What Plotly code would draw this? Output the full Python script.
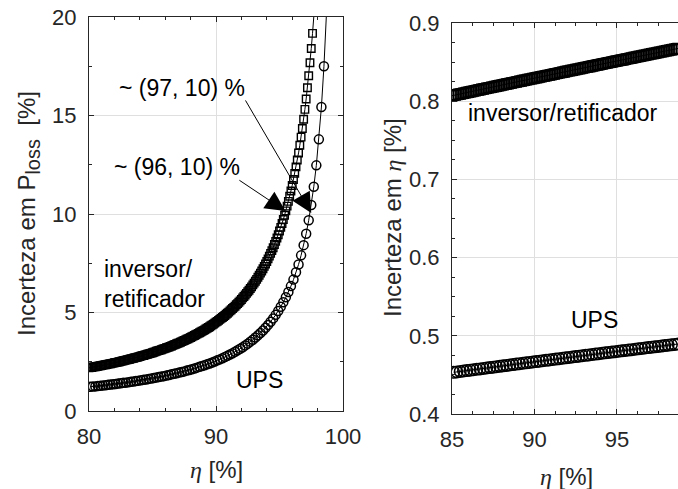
import plotly.graph_objects as go

# ---------------- data ----------------
# Left panel: uncertainty in P_loss [%] versus efficiency eta [%]
inv_left_x_start, inv_left_x_step = 80.0, 0.1
inv_left_y = [
    2.19, 2.20, 2.21, 2.23, 2.24, 2.25, 2.26, 2.27, 2.29, 2.30,
    2.31, 2.33, 2.34, 2.35, 2.36, 2.38, 2.39, 2.40, 2.42, 2.43,
    2.45, 2.46, 2.47, 2.49, 2.50, 2.52, 2.54, 2.55, 2.57, 2.58,
    2.60, 2.61, 2.63, 2.65, 2.66, 2.68, 2.70, 2.71, 2.73, 2.75,
    2.77, 2.79, 2.81, 2.82, 2.84, 2.86, 2.88, 2.90, 2.92, 2.94,
    2.96, 2.98, 3.00, 3.03, 3.05, 3.07, 3.09, 3.11, 3.14, 3.16,
    3.18, 3.21, 3.23, 3.25, 3.28, 3.30, 3.33, 3.36, 3.38, 3.41,
    3.44, 3.46, 3.49, 3.52, 3.55, 3.58, 3.61, 3.64, 3.67, 3.70,
    3.73, 3.77, 3.80, 3.83, 3.87, 3.90, 3.94, 3.97, 4.01, 4.05,
    4.08, 4.12, 4.16, 4.20, 4.24, 4.28, 4.33, 4.37, 4.41, 4.46,
    4.51, 4.55, 4.60, 4.65, 4.70, 4.75, 4.80, 4.85, 4.91, 4.96,
    5.02, 5.08, 5.14, 5.20, 5.26, 5.32, 5.39, 5.45, 5.52, 5.59,
    5.66, 5.74, 5.81, 5.89, 5.97, 6.05, 6.13, 6.22, 6.30, 6.40,
    6.49, 6.59, 6.68, 6.79, 6.89, 7.00, 7.11, 7.22, 7.34, 7.46,
    7.59, 7.72, 7.86, 8.00, 8.14, 8.29, 8.45, 8.61, 8.78, 8.95,
    9.14, 9.32, 9.52, 9.72, 9.94, 10.16, 10.40, 10.64, 10.90, 11.17,
    11.45, 11.75, 12.06, 12.39, 12.74, 13.10, 13.49, 13.90, 14.34, 14.81,
    15.31, 15.84, 16.41, 17.02, 17.68, 18.40, 19.17, 20.01,
]
ups_left_x_start, ups_left_x_step = 80.1, 0.2
ups_left_y = [
    1.23, 1.24, 1.25, 1.27, 1.28, 1.30, 1.31, 1.33, 1.34, 1.36,
    1.37, 1.39, 1.41, 1.43, 1.44, 1.46, 1.48, 1.50, 1.52, 1.54,
    1.56, 1.58, 1.60, 1.63, 1.65, 1.67, 1.70, 1.72, 1.75, 1.77,
    1.80, 1.83, 1.86, 1.89, 1.92, 1.95, 1.98, 2.01, 2.05, 2.08,
    2.12, 2.16, 2.20, 2.24, 2.28, 2.32, 2.37, 2.41, 2.46, 2.51,
    2.57, 2.62, 2.68, 2.74, 2.80, 2.87, 2.93, 3.01, 3.08, 3.16,
    3.24, 3.33, 3.42, 3.52, 3.62, 3.73, 3.84, 3.96, 4.09, 4.23,
    4.37, 4.53, 4.70, 4.88, 5.08, 5.29, 5.52, 5.77, 6.04, 6.34,
    6.67, 7.04, 7.44, 7.90, 8.42, 9.00, 9.68, 10.46, 11.38, 12.47,
    13.79, 15.43, 17.50, 20.21,
]

# Right panel: uncertainty in eta [%] versus eta [%]
inv_right_x_start, inv_right_x_step = 85.0, 0.1
inv_right_y = [
    0.8070, 0.8075, 0.8079, 0.8084, 0.8088, 0.8093, 0.8097, 0.8102, 0.8106, 0.8111,
    0.8115, 0.8120, 0.8124, 0.8129, 0.8133, 0.8138, 0.8143, 0.8147, 0.8152, 0.8156,
    0.8161, 0.8165, 0.8170, 0.8174, 0.8179, 0.8183, 0.8188, 0.8192, 0.8197, 0.8201,
    0.8206, 0.8210, 0.8215, 0.8219, 0.8224, 0.8228, 0.8233, 0.8237, 0.8241, 0.8246,
    0.8250, 0.8255, 0.8259, 0.8264, 0.8268, 0.8273, 0.8277, 0.8282, 0.8286, 0.8290,
    0.8295, 0.8299, 0.8304, 0.8308, 0.8312, 0.8317, 0.8321, 0.8326, 0.8330, 0.8334,
    0.8339, 0.8343, 0.8348, 0.8352, 0.8356, 0.8362, 0.8366, 0.8370, 0.8374, 0.8379,
    0.8384, 0.8388, 0.8392, 0.8396, 0.8401, 0.8406, 0.8410, 0.8414, 0.8418, 0.8423,
    0.8428, 0.8432, 0.8436, 0.8440, 0.8444, 0.8450, 0.8454, 0.8458, 0.8462, 0.8466,
    0.8471, 0.8475, 0.8480, 0.8484, 0.8488, 0.8493, 0.8497, 0.8501, 0.8506, 0.8510,
    0.8515, 0.8519, 0.8523, 0.8527, 0.8531, 0.8537, 0.8541, 0.8545, 0.8549, 0.8553,
    0.8558, 0.8562, 0.8567, 0.8571, 0.8575, 0.8580, 0.8584, 0.8588, 0.8592, 0.8597,
    0.8602, 0.8606, 0.8610, 0.8614, 0.8618, 0.8623, 0.8627, 0.8631, 0.8636, 0.8640,
    0.8645, 0.8649, 0.8653, 0.8657, 0.8661, 0.8666, 0.8670, 0.8674,
]
ups_right_x_start, ups_right_x_step = 85.1, 0.2
ups_right_y = [
    0.4533, 0.4538, 0.4544, 0.4550, 0.4555, 0.4561, 0.4566, 0.4572, 0.4577, 0.4583,
    0.4588, 0.4594, 0.4599, 0.4605, 0.4610, 0.4616, 0.4621, 0.4627, 0.4632, 0.4638,
    0.4643, 0.4649, 0.4654, 0.4659, 0.4665, 0.4670, 0.4676, 0.4681, 0.4686, 0.4692,
    0.4697, 0.4702, 0.4708, 0.4713, 0.4718, 0.4724, 0.4729, 0.4734, 0.4740, 0.4745,
    0.4750, 0.4756, 0.4761, 0.4766, 0.4771, 0.4777, 0.4782, 0.4787, 0.4792, 0.4797,
    0.4803, 0.4808, 0.4813, 0.4818, 0.4823, 0.4828, 0.4834, 0.4839, 0.4844, 0.4849,
    0.4854, 0.4859, 0.4864, 0.4869, 0.4875, 0.4880, 0.4885, 0.4890, 0.4895,
]

left_xticks = [80, 90, 100]
left_yticks = [0, 5, 10, 15, 20]
right_xticks = [85, 90, 95]
right_yticks = [0.4, 0.5, 0.6, 0.7, 0.8, 0.9]
left_xrange = [80, 100]
left_yrange = [0, 20]
right_xrange = [85, 98.7]
right_yrange = [0.4, 0.9]

# ---------------- helpers ----------------
def grid(start, step, n):
    return [round(start + step * i, 2) for i in range(n)]


def within(xv, yv, lo, hi):
    pts = [(a, b) for a, b in zip(xv, yv) if lo <= b <= hi]
    return [p[0] for p in pts], [p[1] for p in pts]


inv_left_x = grid(inv_left_x_start, inv_left_x_step, len(inv_left_y))
ups_left_x = grid(ups_left_x_start, ups_left_x_step, len(ups_left_y))
inv_right_x = grid(inv_right_x_start, inv_right_x_step, len(inv_right_y))
ups_right_x = grid(ups_right_x_start, ups_right_x_step, len(ups_right_y))

FONT = "Liberation Sans, Arial, Helvetica, sans-serif"
SERIF = "Liberation Serif"
AX = "#262626"
GRID = "#dfdfdf"

fig = go.Figure()

def add_series(xv, yv, symbol, size, lw, xa, ya, yr):
    fig.add_trace(go.Scatter(x=xv, y=yv, mode="lines", xaxis=xa, yaxis=ya,
                             line=dict(color="black", width=1),
                             showlegend=False, hoverinfo="skip"))
    mx, my = within(xv, yv, yr[0], yr[1])
    fig.add_trace(go.Scatter(x=mx, y=my, mode="markers", xaxis=xa, yaxis=ya,
                             marker=dict(symbol=symbol, size=size, color="black",
                                         line=dict(width=lw, color="black")),
                             showlegend=False, hoverinfo="skip"))

add_series(inv_left_x, inv_left_y, "square-open", 7.5, 1.4, "x", "y", left_yrange)
add_series(ups_left_x, ups_left_y, "circle-open", 9, 1.5, "x", "y", left_yrange)
add_series(inv_right_x, inv_right_y, "square-open", 10, 1.4, "x2", "y2", right_yrange)
add_series(ups_right_x, ups_right_y, "circle-open", 11.5, 1.5, "x2", "y2", right_yrange)

W, H = 678, 489
ML, MR, MT, MB = 89, 0, 17, 75
PW, PH = W - ML - MR, H - MT - MB


def px_x(p):
    return (p - ML) / PW


def px_y(p):
    return (H - MB - p) / PH


common = dict(showline=True, linecolor=AX, linewidth=1, ticks="inside", ticklen=5,
              tickwidth=1, tickcolor=AX, showgrid=True, gridcolor=GRID, gridwidth=1,
              zeroline=False, tickfont=dict(family=FONT, size=22, color=AX),
              automargin=False, fixedrange=True)

fig.update_layout(
    template="none",
    width=W, height=H, autosize=False,
    margin=dict(l=ML, r=MR, t=MT, b=MB, pad=0, autoexpand=False),
    paper_bgcolor="white", plot_bgcolor="white",
    font=dict(family=FONT, color="black"),
    showlegend=False,
    xaxis=dict(domain=[0, px_x(343)], range=left_xrange, tickvals=left_xticks,
               anchor="y", mirror="ticks", ticklabelstandoff=6,
               minor=dict(dtick=2, tick0=80, ticks="inside", ticklen=3,
                          tickcolor=AX, showgrid=False), **common),
    yaxis=dict(domain=[px_y(411), px_y(17)], range=left_yrange, tickvals=left_yticks,
               anchor="x", mirror="ticks", ticklabelstandoff=7,
               minor=dict(dtick=2.5, tick0=0, ticks="inside", ticklen=3,
                          tickcolor=AX, showgrid=False), **common),
    xaxis2=dict(domain=[px_x(452), 1], range=right_xrange, tickvals=right_xticks,
                anchor="y2", mirror="ticks", ticklabelstandoff=6,
                minor=dict(dtick=1.25, tick0=85, ticks="inside", ticklen=3,
                           tickcolor=AX, showgrid=False), **common),
    yaxis2=dict(domain=[px_y(414), px_y(23)], range=right_yrange, tickvals=right_yticks,
                tickformat=".1f", anchor="x2", mirror=False, ticklabelstandoff=7,
                minor=dict(dtick=0.025, tick0=0.4, ticks="inside", ticklen=3,
                           tickcolor=AX, showgrid=False), **common),
)

TXT = dict(family=FONT, size=23, color="black")
ann = []
# text labels, left panel
ann.append(dict(x=82.27, y=16.40, xref="x", yref="y", text="~ (97, 10) %",
                xanchor="left", yanchor="middle", showarrow=False, font=TXT))
ann.append(dict(x=81.88, y=12.39, xref="x", yref="y", text="~ (96, 10) %",
                xanchor="left", yanchor="middle", showarrow=False, font=TXT))
ann.append(dict(x=81.09, y=6.45, xref="x", yref="y", text="inversor/<br>retificador",
                align="left", xanchor="left", yanchor="middle", showarrow=False, font=TXT))
ann.append(dict(x=91.48, y=1.57, xref="x", yref="y", text="UPS",
                xanchor="left", yanchor="middle", showarrow=False, font=TXT))
# arrows, left panel (pointer lines from the labels to the curves)
ann.append(dict(x=97.5, y=10.05, ax=92.3, ay=15.79, xref="x", yref="y", axref="x", ayref="y",
                text="", showarrow=True, arrowhead=2, arrowsize=4, arrowwidth=1,
                arrowcolor="black", standoff=0))
ann.append(dict(x=95.47, y=10.15, ax=91.8, ay=11.73, xref="x", yref="y", axref="x", ayref="y",
                text="", showarrow=True, arrowhead=2, arrowsize=4, arrowwidth=1,
                arrowcolor="black", standoff=0))
# text labels, right panel
ann.append(dict(x=85.91, y=0.785, xref="x2", yref="y2", text="inversor/retificador",
                xanchor="left", yanchor="middle", showarrow=False, font=TXT))
ann.append(dict(x=92.15, y=0.520, xref="x2", yref="y2", text="UPS",
                xanchor="left", yanchor="middle", showarrow=False, font=TXT))
# axis titles
TTL = dict(family=FONT, size=24, color=AX)
eta = "<span style='font-family:%s;font-style:italic'>η</span>" % SERIF
ann.append(dict(x=px_x(28), y=px_y(214), xref="paper", yref="paper",
                text="Incerteza em P<sub><span style='font-size:20px'>loss</span></sub>\u00a0\u00a0[%]",
                textangle=-90, xanchor="center", yanchor="middle", showarrow=False, font=TTL))
ann.append(dict(x=px_x(392), y=px_y(218), xref="paper", yref="paper",
                text="Incerteza em " + eta + " [%]",
                textangle=-90, xanchor="center", yanchor="middle", showarrow=False, font=TTL))
ann.append(dict(x=px_x(216), y=px_y(469), xref="paper", yref="paper",
                text=eta + " [%]", xanchor="center", yanchor="middle", showarrow=False, font=TTL))
ann.append(dict(x=px_x(566), y=px_y(476), xref="paper", yref="paper",
                text=eta + " [%]", xanchor="center", yanchor="middle", showarrow=False, font=TTL))
for a in ann:
    a.setdefault("borderpad", 0)
fig.update_layout(annotations=ann)

fig.write_html("out.html", config={"responsive": False})
